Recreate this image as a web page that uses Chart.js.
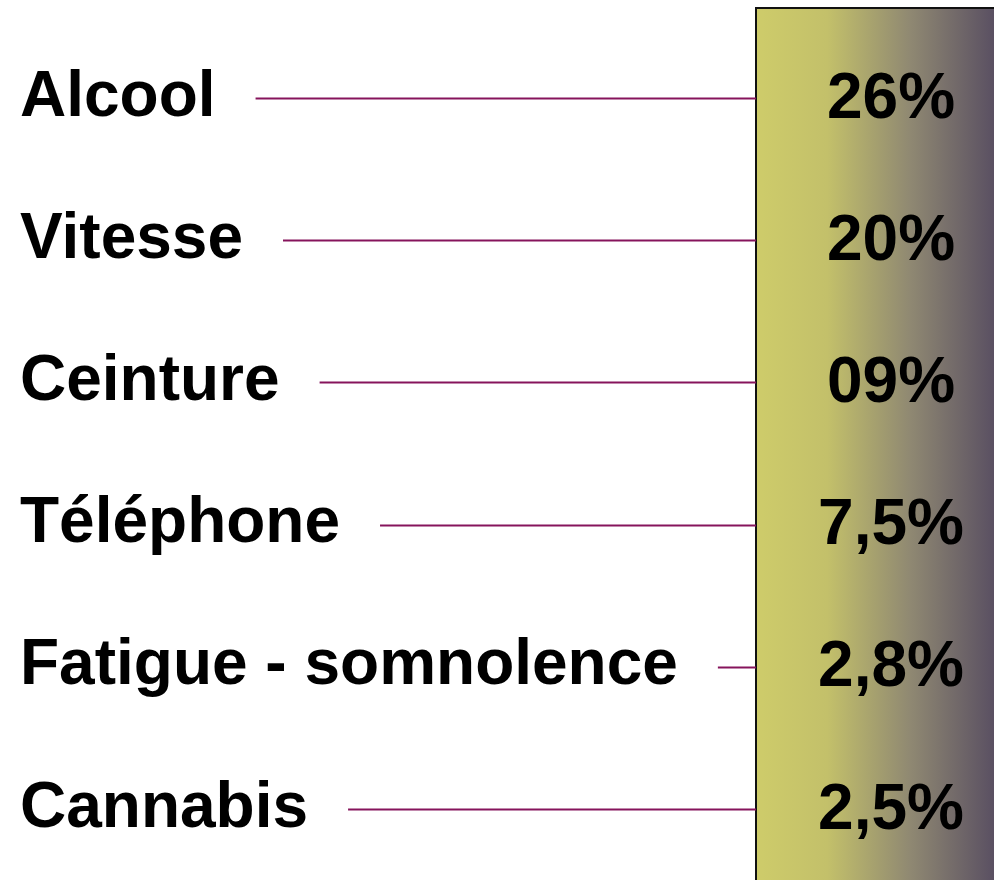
<!DOCTYPE html>
<html>
<head>
<meta charset="utf-8">
<script src="https://cdn.jsdelivr.net/npm/chart.js@4"></script>
<style>
  html, body { margin: 0; padding: 0; background: #fff; }
  #wrap { width: 994px; height: 880px; position: relative; }
</style>
</head>
<body>
<div id="wrap"><canvas id="myChart"></canvas></div>
<script>
'use strict';

const categories = ['Alcool', 'Vitesse', 'Ceinture', 'Téléphone', 'Fatigue - somnolence', 'Cannabis'];
const values = [26, 20, 9, 7.5, 2.8, 2.5];

const labelFont = 'bold 64px "Liberation Sans", Arial, sans-serif';

// 9 -> "09%", 7.5 -> "7,5%"
function formatValue(v){
    if(Number.isInteger(v)) return String(v).padStart(2, '0') + '%';
    return String(v).replace('.', ',') + '%';
}

const leaders = {
    id: 'leaders',
    beforeDatasetsDraw(chart){
        const ctx = chart.ctx,
              yScale = chart.scales.y,
              colLeft = chart.width - 238,
              colTop = 8;

        ctx.save();
        let grad = ctx.createLinearGradient(colLeft, 0, chart.width, 0);
        grad.addColorStop(0, '#cecc6a');
        grad.addColorStop(0.3, '#c3c06a');
        grad.addColorStop(0.65, '#8f8872');
        grad.addColorStop(1, '#5a5062');
        ctx.fillStyle = grad;
        ctx.fillRect(colLeft, colTop, chart.width - colLeft, chart.height - colTop);

        ctx.strokeStyle = '#111';
        ctx.lineWidth = 2;
        ctx.beginPath();
        ctx.moveTo(colLeft, chart.height);
        ctx.lineTo(colLeft, colTop);
        ctx.lineTo(chart.width, colTop);
        ctx.stroke();

        ctx.font = labelFont;
        ctx.textBaseline = 'middle';
        categories.forEach((cat, i) => {
            const y = yScale.getPixelForValue(i),
                  ly = Math.round(y) + 0.5,
                  start = 20 + ctx.measureText(cat).width + 40;

            ctx.fillStyle = '#000';
            ctx.textAlign = 'left';
            ctx.fillText(cat, 20, y);

            ctx.strokeStyle = '#86145c';
            ctx.lineWidth = 2;
            ctx.beginPath();
            ctx.moveTo(start, ly);
            ctx.lineTo(colLeft, ly);
            ctx.stroke();

            ctx.textAlign = 'center';
            ctx.fillText(formatValue(values[i]), colLeft + 135, y + 2);
        });
        ctx.restore();
    }
};

const ctx = document.querySelector('#myChart').getContext('2d');

var myChart = new Chart(ctx, {
    type: 'bar',
    data: {
        labels: categories,
        datasets: [{
            label: 'Causes',
            data: values,
            backgroundColor: 'rgba(0,0,0,0)',
            borderWidth: 0
        }]
    },
    plugins: [leaders],
    options: {
        indexAxis: 'y',
        animation: false,
        responsive: true,
        maintainAspectRatio: false,
        layout: { padding: { top: 27, left: 0, right: 0, bottom: 0 } },
        plugins: {
            legend: { display: false },
            tooltip: { enabled: false }
        },
        scales: {
            y: {
                type: 'category',
                display: false,
                offset: true
            },
            x: {
                display: false,
                min: 0,
                max: 30
            }
        }
    }
});
</script>
</body>
</html>
